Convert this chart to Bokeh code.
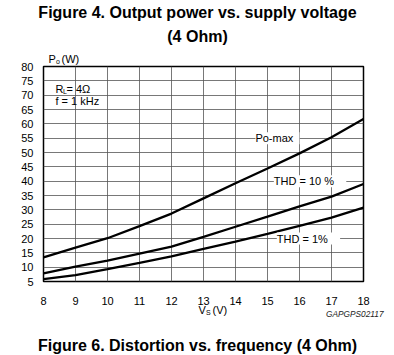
import math
from bokeh.plotting import figure
from bokeh.models import Label, FixedTicker
from bokeh.embed import file_html
from bokeh.resources import INLINE

# Data
vs = [8, 9, 10, 11, 12, 13, 14, 15, 16, 17, 18]
po_max = [13.4, 16.8, 20.1, 24.3, 28.7, 34.0, 39.3, 44.4, 49.7, 55.3, 61.7]
thd_10 = [7.8, 10.2, 12.3, 14.7, 17.2, 20.6, 24.1, 27.6, 31.2, 34.6, 39.0]
thd_1 = [5.8, 7.2, 9.3, 11.5, 13.8, 16.4, 18.9, 21.6, 24.4, 27.3, 30.8]
x_ticks = [8, 9, 10, 11, 12, 13, 14, 15, 16, 17, 18]
y_ticks = [5, 10, 15, 20, 25, 30, 35, 40, 45, 50, 55, 60, 65, 70, 75, 80]

W, H = 394, 355
FONT = "Liberation Sans"

p = figure(width=W, height=H, x_range=(8, 18), y_range=(5, 80),
           output_backend="svg", toolbar_location=None,
           min_border_left=43, min_border_right=31,
           min_border_top=66, min_border_bottom=74)
p.background_fill_color = "white"
p.border_fill_color = "white"
p.outline_line_color = "black"
p.outline_line_width = 1.5

p.xaxis.ticker = FixedTicker(ticks=x_ticks)
p.yaxis.ticker = FixedTicker(ticks=y_ticks)
for ax in (p.xaxis[0], p.yaxis[0]):
    ax.axis_line_color = None
    ax.major_tick_line_color = None
    ax.minor_tick_line_color = None
    ax.major_label_text_font = FONT
    ax.major_label_text_font_size = "11px"
    ax.major_label_text_color = "black"
p.xaxis.major_label_standoff = 9
p.yaxis.major_label_standoff = 4

p.xgrid.ticker = FixedTicker(ticks=x_ticks)
p.ygrid.ticker = FixedTicker(ticks=y_ticks)
p.grid.grid_line_color = "#555555"
p.grid.grid_line_width = 0.8

for ys in (po_max, thd_10, thd_1):
    p.line(vs, ys, line_color="black", line_width=2.3)


def lab(x, y, text, size="11px", style="normal", bg=None, align="left",
        baseline="middle", units="data", color="black", place=None, **extra):
    kw = dict(extra)
    if bg:
        kw["background_fill_color"] = bg
    l = Label(x=x, y=y, text=text, x_units=units, y_units=units,
              text_font=FONT, text_font_size=size, text_font_style=style,
              text_align=align, text_baseline=baseline,
              text_color=color, **kw)
    if place:
        p.add_layout(l, place)
    else:
        p.add_layout(l)


def rule(x, y, n, size, color, place, align="left", angle=0.0):
    # a thin filled strip (document table border): the background of an invisible text run
    p.add_layout(Label(x=x, y=y, x_units="canvas", y_units="canvas", text="M" * n,
                       text_alpha=0, text_font=FONT, text_font_size=size,
                       text_align=align, text_baseline="top", angle=angle,
                       background_fill_color=color, background_fill_alpha=1.0,
                       border_line_color=None), place)


# curve labels (data units), white boxes cut the grid lines
lab(15.31, 55, " Po-max ", bg="white", align="center")
lab(16.33, 40, "  THD = 10 %  ", bg="white", align="center")
lab(16.28, 20, "  THD = 1%  ", bg="white", align="center")

# inside-frame legend text (canvas units, y from top)
lab(52, 81, "f = 1 kHz \nf = 1 kHz ", units="canvas", bg="white", baseline="top",
    text_alpha=0, text_line_height=1.1, padding=1)
lab(55, 88, "R", units="canvas")
lab(62.5, 91, "L", size="7px", units="canvas")
lab(66, 88, "= 4Ω", units="canvas")
lab(55, 100, "f = 1 kHz", units="canvas")

# texts outside the frame, placed in side panels, positioned on the canvas
lab(197, 24, "Figure 4. Output power vs. supply voltage\n(4 Ohm)", size="16px",
    style="bold", align="center", units="canvas", place="above",
    text_line_height=1.38)
lab(61, 58, "(W)", units="canvas", place="above")
lab(48, 58, "P", units="canvas", place="left")
lab(55.5, 61, "o", size="7px", units="canvas", place="left")

lab(197, 345, "Figure 6. Distortion vs. frequency (4 Ohm)", size="16px",
    style="bold", align="center", units="canvas", place="below")
lab(212, 309, "(V)", units="canvas", place="below")
lab(383, 313, "GAPGPS02117", size="8.3px", style="italic", align="right",
    units="canvas", color="#222222", place="below")
lab(198, 309, "V", units="canvas", place="right")
lab(205.5, 312, "S", size="7px", units="canvas", place="right")

# surrounding table border
rule(0, 45, 485, "1px", "#9a9a9a", "above")
rule(388, 319.5, 485, "1px", "#000000", "below", align="right")
rule(4.5, 45, 138, "2.4px", "#000000", "left", angle=-math.pi / 2)
rule(388, 45, 330, "1px", "#000000", "right", angle=-math.pi / 2)

open("out.html", "w").write(file_html(p, INLINE))
